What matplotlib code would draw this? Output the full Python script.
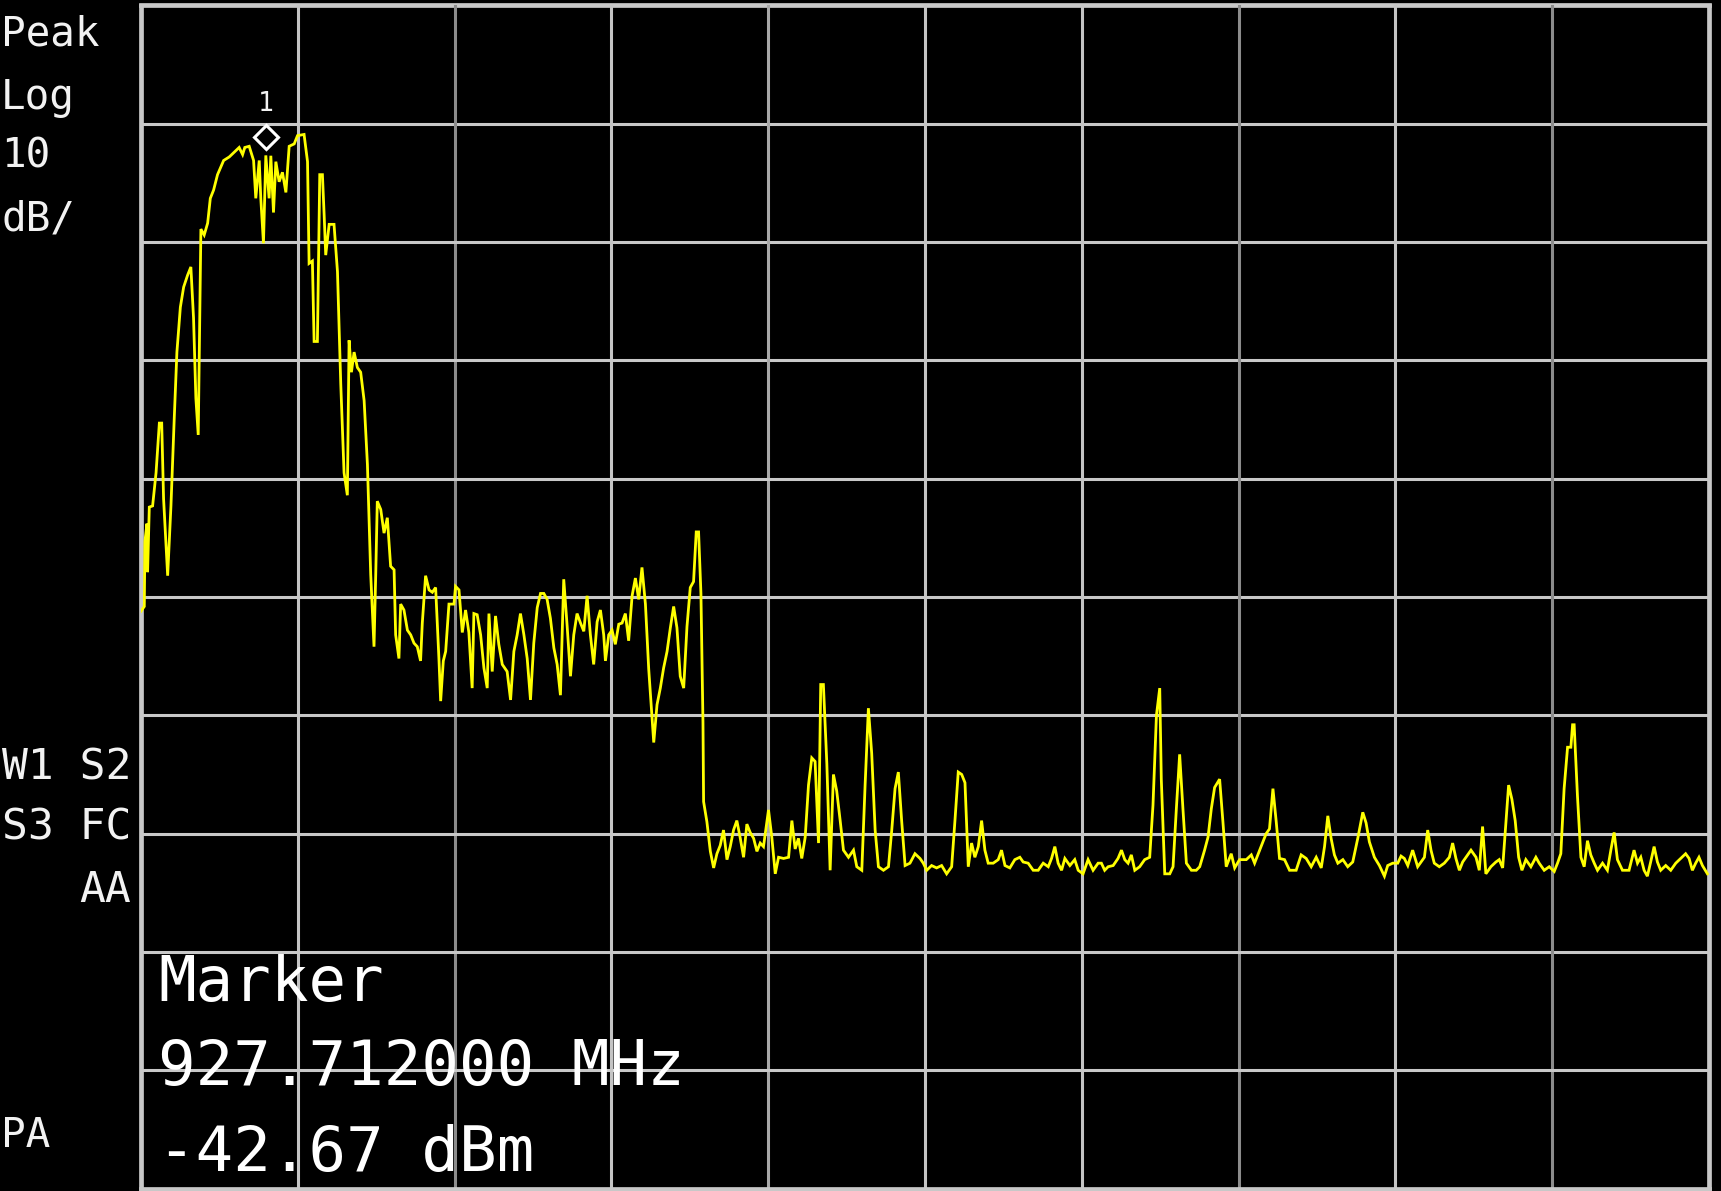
import matplotlib

matplotlib.use("Agg")
import matplotlib.pyplot as plt
import matplotlib.transforms as mtransforms
import numpy as np

# output size in pixels
W, H, DPI = 1721, 1191, 100

# analyzer settings: 10 divisions each way, 10 dB/div, ref level at top
REF_LEVEL = -30.0
DB_PER_DIV = 10.0
N_DIV = 10

# trace readings, x in horizontal divisions (0..10), y in dBm
lobe_div = [
    0.0, 0.021, 0.025, 0.038, 0.042, 0.053, 0.074, 0.096, 0.117, 0.132,
    0.144, 0.170, 0.191, 0.212, 0.229, 0.251, 0.272, 0.297, 0.318, 0.335,
    0.350, 0.365, 0.382, 0.403, 0.425, 0.442, 0.463, 0.488, 0.527, 0.563,
    0.594, 0.626, 0.648, 0.662, 0.690, 0.718, 0.732, 0.754, 0.764, 0.781,
    0.796, 0.817, 0.828, 0.845, 0.860, 0.881, 0.902, 0.924, 0.945, 0.977,
    0.998, 1.040, 1.062, 1.072, 1.093, 1.104, 1.125, 1.140, 1.157, 1.168,
    1.178, 1.200, 1.231, 1.253, 1.274, 1.295, 1.316, 1.327, 1.342, 1.359,
    1.380, 1.401, 1.423, 1.444, 1.465, 1.486, 1.497, 1.507, 1.529, 1.550,
    1.571, 1.592, 1.614, 1.624, 1.645, 1.656, 1.677, 1.699, 1.720, 1.741,
    1.762, 1.783, 1.794, 1.815, 1.837, 1.858, 1.879, 1.900,
]
lobe_dbm = [
    -81.2, -80.8, -75.3, -73.8, -77.9, -72.4, -72.3, -69.5, -65.3, -65.3,
    -71.7, -78.2, -72.3, -64.9, -59.3, -55.5, -53.8, -52.8, -52.1, -56.4,
    -63.2, -66.3, -48.9, -49.4, -48.4, -46.3, -45.6, -44.3, -43.1, -42.8,
    -42.4, -42.0, -42.6, -42.0, -41.9, -43.1, -46.3, -43.1, -46.3, -50.1,
    -42.67, -46.3, -42.7, -47.5, -43.2, -44.9, -44.1, -45.8, -41.9, -41.7,
    -41.0, -40.9, -43.2, -51.8, -51.6, -58.4, -58.4, -44.3, -44.3, -47.7,
    -51.1, -48.5, -48.5, -52.5, -62.0, -69.5, -71.4, -58.3, -61.0, -59.3,
    -60.6, -61.0, -63.4, -68.8, -78.1, -84.2, -78.1, -71.9, -72.6, -74.6,
    -73.3, -77.4, -77.7, -83.2, -85.2, -80.6, -81.1, -82.8, -83.2, -83.9,
    -84.2, -85.4, -82.2, -78.2, -79.4, -79.6, -79.2, -85.2,
]

plateau_div = [
    1.911, 1.928, 1.943, 1.964, 1.996, 2.006, 2.028, 2.049, 2.070, 2.091,
    2.112, 2.123, 2.144, 2.166, 2.187, 2.208, 2.219, 2.240, 2.261, 2.282,
    2.304, 2.335, 2.357, 2.378, 2.399, 2.420, 2.442, 2.463, 2.484, 2.505,
    2.527, 2.548, 2.569, 2.590, 2.611, 2.633, 2.654, 2.675, 2.696, 2.718,
    2.739, 2.760, 2.781, 2.803, 2.824, 2.845, 2.866, 2.887, 2.909, 2.930,
    2.951, 2.962, 2.983, 3.004, 3.025, 3.047, 3.068, 3.089, 3.110, 3.132,
    3.153, 3.174, 3.195, 3.217, 3.238, 3.259, 3.270, 3.291, 3.312, 3.333,
    3.355, 3.376, 3.397, 3.418, 3.439, 3.461, 3.482, 3.503, 3.524, 3.541,
    3.556, 3.571, 3.584,
]
plateau_dbm = [
    -88.8, -85.4, -84.6, -80.6, -80.6, -79.1, -79.4, -83.0, -81.1, -83.0,
    -87.7, -81.4, -81.5, -83.2, -86.0, -87.7, -81.4, -86.3, -81.6, -84.0,
    -85.7, -86.3, -88.7, -84.6, -83.2, -81.4, -83.2, -85.2, -88.7, -83.9,
    -80.9, -79.7, -79.7, -80.2, -81.8, -84.3, -85.7, -88.3, -78.5, -82.5,
    -86.7, -83.2, -81.4, -82.2, -82.9, -79.9, -83.2, -85.7, -82.1, -81.1,
    -83.2, -85.4, -83.2, -82.8, -84.0, -82.3, -82.2, -81.4, -83.7, -79.9,
    -78.4, -80.2, -77.5, -80.6, -86.1, -90.2, -92.3, -89.1, -87.7, -86.0,
    -84.6, -82.6, -80.8, -82.6, -86.7, -87.7, -82.5, -79.2, -78.7, -74.5,
    -74.5, -79.7, -90.6,
]

floor1_div = [
    3.588, 3.609, 3.631, 3.652, 3.673, 3.694, 3.715, 3.737, 3.758, 3.779,
    3.800, 3.822, 3.843, 3.864, 3.885, 3.907, 3.928, 3.949, 3.970, 4.002,
    4.023, 4.045, 4.066, 4.098, 4.130, 4.151, 4.172, 4.193, 4.214, 4.236,
    4.257, 4.278, 4.299, 4.321, 4.335, 4.352, 4.363, 4.374, 4.395, 4.416,
    4.437, 4.459, 4.480, 4.512, 4.544, 4.565, 4.597, 4.618, 4.639, 4.660,
    4.682, 4.703, 4.735, 4.767, 4.788, 4.809, 4.830, 4.851, 4.873, 4.904,
    4.936, 4.968, 4.989, 5.011, 5.042, 5.074, 5.106, 5.138, 5.170, 5.191,
    5.212, 5.234, 5.255, 5.276, 5.297, 5.318, 5.340, 5.361, 5.382, 5.403,
    5.435, 5.467, 5.488, 5.510, 5.541, 5.573, 5.605, 5.626, 5.658, 5.690,
    5.722, 5.754, 5.786, 5.807, 5.828, 5.849, 5.871, 5.892, 5.924, 5.955,
    5.977, 6.008, 6.040, 6.072, 6.104,
]
floor1_dbm = [
    -97.3, -99.0, -101.5, -102.9, -101.7, -101.0, -99.7, -102.2, -101.1, -99.7,
    -98.9, -100.4, -102.0, -99.2, -99.9, -100.4, -101.5, -100.8, -101.1, -98.0,
    -100.3, -103.4, -102.0, -102.1, -102.0, -98.9, -101.3, -100.4, -102.1, -100.3,
    -95.9, -93.6, -93.9, -100.8, -87.4, -87.4, -90.8, -94.1, -103.1, -95.0,
    -96.4, -98.9, -101.4, -102.0, -101.4, -102.8, -103.1, -95.9, -89.4, -93.2,
    -99.7, -102.8, -103.1, -102.8, -99.7, -96.2, -94.8, -98.9, -102.7, -102.5,
    -101.7, -102.1, -102.5, -103.1, -102.7, -102.9, -102.7, -103.4, -102.8, -98.9,
    -94.8, -95.0, -95.7, -102.8, -100.8, -102.0, -101.1, -98.9, -101.4, -102.5,
    -102.5, -102.2, -101.4, -102.7, -102.9, -102.2, -102.0, -102.4, -102.5, -103.1,
    -103.1, -102.5, -102.8, -102.1, -101.1, -102.5, -103.1, -102.1, -102.7, -102.2,
    -103.1, -103.4, -102.2, -103.1, -102.5,
]

floor2_div = [
    6.125, 6.146, 6.168, 6.200, 6.231, 6.253, 6.274, 6.295, 6.316, 6.338,
    6.369, 6.401, 6.433, 6.454, 6.476, 6.497, 6.507, 6.529, 6.561, 6.582,
    6.603, 6.624, 6.645, 6.667, 6.699, 6.730, 6.752, 6.783, 6.805, 6.826,
    6.847, 6.879, 6.900, 6.921, 6.953, 6.975, 7.006, 7.049, 7.081, 7.102,
    7.134, 7.155, 7.176, 7.197, 7.219, 7.240, 7.261, 7.293, 7.325, 7.367,
    7.399, 7.431, 7.463, 7.495, 7.527, 7.548, 7.569, 7.590, 7.611, 7.633,
    7.665, 7.696, 7.728, 7.760, 7.792, 7.813, 7.834, 7.866, 7.898, 7.930,
    7.951, 7.983, 8.015, 8.036, 8.057, 8.079, 8.110, 8.142,
]
floor2_dbm = [
    -102.5, -103.1, -102.8, -102.7, -102.1, -101.4, -102.2, -102.5, -101.8, -103.1,
    -102.8, -102.2, -102.0, -97.6, -90.0, -87.7, -95.4, -103.4, -103.4, -102.8,
    -97.9, -93.3, -97.9, -102.5, -103.1, -103.1, -102.8, -101.4, -100.3, -97.9,
    -96.1, -95.4, -99.0, -102.8, -101.7, -102.9, -102.2, -102.2, -101.8, -102.5,
    -101.4, -100.7, -100.0, -99.6, -96.2, -99.0, -102.1, -102.2, -103.1, -103.1,
    -101.8, -102.1, -102.8, -102.0, -102.9, -101.1, -98.5, -100.4, -101.8, -102.5,
    -102.2, -102.8, -102.4, -100.4, -98.2, -99.1, -100.7, -102.0, -102.7, -103.6,
    -102.7, -102.5, -102.5, -101.9, -102.1, -102.7, -101.4, -102.8,
]

floor3_div = [
    8.185, 8.206, 8.227, 8.248, 8.280, 8.312, 8.344, 8.365, 8.386, 8.408,
    8.429, 8.450, 8.482, 8.514, 8.535, 8.556, 8.577, 8.609, 8.641, 8.662,
    8.684, 8.705, 8.722, 8.743, 8.764, 8.786, 8.807, 8.832, 8.864, 8.896,
    8.917, 8.949, 8.981, 9.013, 9.034, 9.055, 9.076, 9.098, 9.119, 9.130,
    9.140, 9.161, 9.183, 9.204, 9.225, 9.246, 9.268, 9.289, 9.321, 9.352,
    9.374, 9.395, 9.416, 9.448, 9.490, 9.522, 9.544, 9.565, 9.586, 9.607,
    9.628, 9.650, 9.671, 9.692, 9.724, 9.756, 9.788, 9.820, 9.851, 9.873,
    9.894, 9.915, 9.936, 9.958, 9.990,
]
floor3_dbm = [
    -102.0, -99.7, -101.4, -102.5, -102.8, -102.5, -102.0, -100.8, -102.1, -103.1,
    -102.4, -102.0, -101.4, -102.0, -103.1, -99.4, -103.4, -102.8, -102.4, -102.2,
    -102.9, -99.0, -95.9, -97.1, -98.9, -102.0, -103.1, -102.2, -102.8, -102.0,
    -102.5, -103.1, -102.8, -103.2, -102.5, -101.7, -96.2, -92.7, -92.7, -90.8,
    -90.8, -96.8, -102.0, -102.8, -100.6, -101.8, -102.5, -103.1, -102.5, -103.1,
    -101.4, -99.9, -102.2, -103.1, -103.1, -101.4, -102.5, -102.0, -103.1, -103.6,
    -102.4, -101.1, -102.4, -103.1, -102.7, -103.1, -102.5, -102.1, -101.7, -102.1,
    -103.1, -102.5, -102.0, -102.7, -103.4,
]

# marker 1
marker_div = 0.796
marker_freq_mhz = 927.712
marker_dbm = -42.67

left_labels = ["Peak", "Log", "10", "dB/"]
status_labels = ["W1 S2", "S3 FC", "AA"]

# screen colours
BG = "black"
GRID = "#c8c8c8"
TRACE = "#ffff00"
TEXT = "#f2f2f2"
MONO = "DejaVu Sans Mono"
# vertical lines look lighter / darker on the capture
vgrid_colors = ["#c8c8c8", "#c4c4c4", "#8c8c8c", "#c4c4c4", "#a8a8a8", "#c4c4c4",
                "#c4c4c4", "#8c8c8c", "#c4c4c4", "#8c8c8c", "#c8c8c8"]


def px(x, y):
    # figure pixel (from top-left) -> figure fraction
    return x / W, 1 - y / H


def build_trace():
    div = np.concatenate([lobe_div, plateau_div, floor1_div, floor2_div, floor3_div])
    dbm = np.concatenate([lobe_dbm, plateau_dbm, floor1_dbm, floor2_dbm, floor3_dbm])
    assert len(div) == len(dbm)
    return div, dbm


fig = plt.figure(figsize=(W / DPI, H / DPI), dpi=DPI, facecolor=BG)
left, right, top, bottom = 141, 1709, 5.5, 1188.5
ax = fig.add_axes([left / W, 1 - bottom / H, (right - left) / W, (bottom - top) / H])
ax.set_facecolor(BG)
bottom_level = REF_LEVEL - N_DIV * DB_PER_DIV
ax.set_xlim(0, N_DIV)
ax.set_ylim(bottom_level, REF_LEVEL)
ax.set_xticks([])
ax.set_yticks([])
for s in ax.spines.values():
    s.set_visible(False)

# graticule
for i in range(N_DIV + 1):
    edge = i in (0, N_DIV)
    ax.axvline(i, color=vgrid_colors[i], lw=3.4 if edge else 2.2, clip_on=False, zorder=1)
    ax.axhline(REF_LEVEL - i * DB_PER_DIV, color=GRID, lw=3.4 if edge else 2.2,
               clip_on=False, zorder=1)

div, dbm = build_trace()
ax.plot(div, dbm, color=TRACE, lw=2.0, zorder=3, solid_joinstyle="miter")

# marker diamond sits just above the trace point, number above it
diamond_tr = mtransforms.offset_copy(ax.transData, fig=fig, x=0, y=13, units="points")
ax.plot([marker_div], [marker_dbm], marker="D", ms=12.5, mfc="none", mec="white",
        mew=2.2, transform=diamond_tr, zorder=4, clip_on=False)
ax.annotate("1", xy=(marker_div, marker_dbm), xytext=(0, 32), textcoords="offset points",
            ha="center", va="baseline", color=TEXT, fontsize=19, family=MONO, zorder=4)

# left side annotations (kept just inside the left edge)
for label, base in zip(left_labels, [46, 109, 168, 230]):
    fig.text(*px(1, base), label, color=TEXT, fontsize=29.5, family=MONO,
             ha="left", va="baseline")
for label, base in zip(status_labels, [780, 840, 902]):
    fig.text(*px(131, base), label, color=TEXT, fontsize=31, family=MONO,
             ha="right", va="baseline")
fig.text(*px(1, 1147), "PA", color=TEXT, fontsize=29.5, family=MONO,
         ha="left", va="baseline")

# marker readout
readout = ["Marker", f"{marker_freq_mhz:.6f} MHz", f"{marker_dbm:.2f} dBm"]
for line, base in zip(readout, [1001, 1085, 1171]):
    fig.text(*px(158, base), line, color="white", fontsize=45, family=MONO,
             ha="left", va="baseline", zorder=5)

fig.savefig("out.png", dpi=DPI, facecolor=BG)
